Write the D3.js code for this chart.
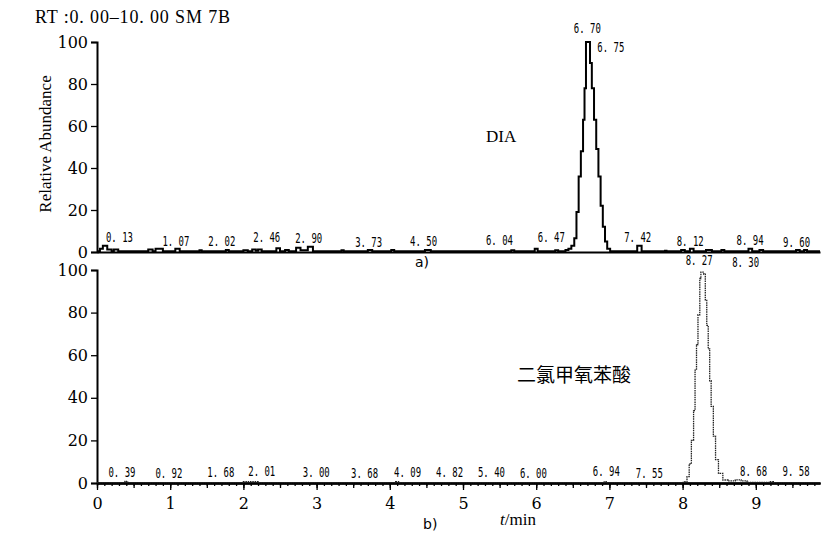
<!DOCTYPE html>
<html>
<head>
  <meta charset="utf-8">
  <title>Chromatogram</title>
  <script src="https://d3js.org/d3.v7.min.js"></script>
  <style>
    body { margin: 0; background: #fff; }
    svg { display: block; }
  </style>
</head>
<body>
  <div id="chart"></div>

  <script>
    // trace a) DIA, time (min) and relative abundance (%)
    var topTime = [0.00, 0.04, 0.08, 0.14, 0.20, 0.23, 0.29, 0.70, 0.76, 0.80, 0.90, 1.07, 1.13, 1.40, 1.43,
      1.76, 1.80, 2.00, 2.06, 2.12, 2.17, 2.20, 2.25, 2.45, 2.50, 2.57, 2.62, 2.72, 2.78, 2.88, 2.95,
      3.34, 3.37, 3.70, 3.76, 4.02, 4.06, 4.48, 4.56, 5.66, 5.70, 5.98, 6.02, 6.26, 6.30,
      6.40, 6.44, 6.48, 6.52, 6.55, 6.58, 6.61, 6.64, 6.66, 6.68, 6.735, 6.76, 6.79, 6.82, 6.85, 6.88,
      6.91, 6.94, 6.97, 7.01, 7.38, 7.44, 7.76, 7.78, 7.98, 8.03, 8.10, 8.15, 8.32, 8.40, 8.53, 8.57,
      8.90, 8.95, 9.05, 9.10, 9.55, 9.60, 9.66, 9.70, 9.877];
    var topAbund = [0.3, 1.5, 3.0, 1.2, 0.3, 1.2, 0.3, 1.2, 0.3, 1.5, 0.3, 1.5, 0.3, 0.8, 0.3,
      1.0, 0.3, 0.8, 0.3, 1.2, 0.6, 1.2, 0.3, 1.8, 0.3, 1.0, 0.3, 2.0, 0.8, 2.5, 0.3,
      0.8, 0.3, 1.0, 0.3, 1.0, 0.3, 1.0, 0.3, 0.8, 0.3, 1.5, 0.3, 0.8, 0.3,
      1.0, 1.5, 3.0, 6.5, 19, 36, 48, 63, 78, 100, 90, 78, 63, 49, 36, 22,
      12, 5, 1.5, 0.3, 3.0, 0.3, 0.6, 0.3, 1.0, 0.3, 1.5, 0.3, 1.0, 0.3, 1.0, 0.3,
      1.5, 0.3, 1.0, 0.3, 1.0, 0.3, 1.0, 0.3, 0.3];

    // trace b) 二氯甲氧苯酸
    var botTime = [0.00, 0.38, 0.42, 2.00, 2.20, 4.08, 4.12, 6.93, 6.97, 7.99, 8.02, 8.06, 8.09, 8.12,
      8.15, 8.17, 8.19, 8.21, 8.235, 8.25, 8.29, 8.31, 8.33, 8.35, 8.37, 8.39, 8.42, 8.45, 8.49,
      8.55, 8.62, 8.72, 8.80, 8.88, 9.20, 9.24, 9.877];
    var botAbund = [0.2, 0.8, 0.2, 0.6, 0.2, 0.6, 0.2, 0.6, 0.2, 0.3, 0.6, 3, 9, 20,
      34, 53, 65, 79, 96, 99, 98, 86, 74, 63, 48, 36, 22, 11, 4.5,
      1.4, 1.0, 1.5, 1.0, 0.3, 0.6, 0.2, 0.2];

    // peak labels: text, label time, label height (%)
    var topLabels = ["0. 13", "1. 07", "2. 02", "2. 46", "2. 90", "3. 73", "4. 50", "6. 04", "6. 47",
      "6. 70", "6. 75", "7. 42", "8. 12", "8. 94", "9. 60"];
    var topLabelT = [0.307, 1.078, 1.705, 2.319, 2.892, 3.711, 4.461, 5.498, 6.207, 6.698, 7.019, 7.387, 8.104, 8.922, 9.557];
    var topLabelY = [4.9, 2.9, 2.9, 4.9, 4.5, 2.6, 2.9, 3.3, 4.8, 104.4, 95.4, 4.8, 2.9, 3.3, 2.5];

    var botLabels = ["0. 39", "0. 92", "1. 68", "2. 01", "3. 00", "3. 68", "4. 09", "4. 82", "5. 40",
      "6. 00", "6. 94", "7. 55", "8. 27", "8. 30", "8. 68", "9. 58"];
    var botLabelT = [0.341, 0.982, 1.692, 2.251, 2.995, 3.656, 4.243, 4.816, 5.389, 5.962, 6.958, 7.545, 8.226, 8.861, 8.970, 9.550];
    var botLabelY = [3.0, 2.5, 3.0, 3.3, 3.0, 2.5, 3.0, 3.0, 3.0, 2.5, 3.3, 2.5, 102.3, 101.5, 3.3, 3.3];

    var yTicks = [0, 20, 40, 60, 80, 100];
    var xTicks = [0, 1, 2, 3, 4, 5, 6, 7, 8, 9];

    var width = 823, height = 538;
    var serif = "'Liberation Serif', 'DejaVu Serif', serif";
    var numSerif = "'DejaVu Serif', serif";
    var mono = "'DejaVu Sans Mono', monospace";

    var svg = d3.select("#chart").append("svg")
      .attr("width", width)
      .attr("height", height);

    var x = d3.scaleLinear().domain([0, 9.877]).range([97, 820]);
    var yTop = d3.scaleLinear().domain([0, 100]).range([252, 42]);
    var yBot = d3.scaleLinear().domain([0, 100]).range([483, 270]);

    function minorVals(step, max) {
      return d3.range(0, max + 1e-6, step);
    }

    function drawYAxis(y) {
      var g = svg.append("g").attr("transform", "translate(97,0)");
      g.call(d3.axisLeft(y).tickValues(minorVals(5, 100)).tickSize(3).tickFormat(""));
      g.call(d3.axisLeft(y).tickValues(yTicks).tickSize(6).tickFormat(d3.format("d")));
      g.selectAll(".domain").attr("stroke-width", 2);
      g.selectAll("line").attr("stroke-width", 1.3);
      g.selectAll("text")
        .style("font-family", numSerif)
        .style("font-size", "16px")
        .attr("fill", "#000");
    }

    drawYAxis(yTop);
    drawYAxis(yBot);

    // top baseline (no ticks)
    svg.append("g")
      .attr("transform", "translate(0," + yTop(0) + ")")
      .call(d3.axisBottom(x).tickValues([]).tickSizeOuter(0))
      .selectAll(".domain").attr("stroke-width", 2);

    // bottom x axis with minor ticks
    var xg = svg.append("g").attr("transform", "translate(0," + yBot(0) + ")");
    xg.append("g").call(d3.axisBottom(x).tickValues(minorVals(0.1, 9.8)).tickSize(3).tickFormat("").tickSizeOuter(0));
    xg.append("g").call(d3.axisBottom(x).tickValues(minorVals(0.5, 9.5)).tickSize(5).tickFormat("").tickSizeOuter(0));
    xg.append("g").call(d3.axisBottom(x).tickValues(xTicks).tickSize(7).tickPadding(8).tickFormat(d3.format("d")).tickSizeOuter(0));
    xg.selectAll(".domain").attr("stroke-width", 2);
    xg.selectAll("line").attr("stroke-width", 1.3);
    xg.selectAll("text")
      .style("font-family", numSerif)
      .style("font-size", "16px")
      .attr("fill", "#000");

    // traces
    var topLine = d3.line()
      .x(function(d) { return x(d[0]); })
      .y(function(d) { return yTop(d[1]); })
      .curve(d3.curveStepAfter);
    var botLine = d3.line()
      .x(function(d) { return x(d[0]); })
      .y(function(d) { return yBot(d[1]); })
      .curve(d3.curveStepAfter);

    svg.append("path")
      .datum(d3.zip(topTime, topAbund))
      .attr("d", topLine)
      .attr("fill", "none")
      .attr("stroke", "#000")
      .attr("stroke-width", 2);

    svg.append("path")
      .datum(d3.zip(botTime, botAbund))
      .attr("d", botLine)
      .attr("fill", "none")
      .attr("stroke", "#222")
      .attr("stroke-width", 1.3)
      .attr("stroke-dasharray", "1.5,0.8");

    // peak labels
    function drawLabels(texts, ts, ys, y) {
      svg.selectAll(null)
        .data(d3.range(texts.length))
        .enter()
        .append("text")
        .attr("x", function(i) { return x(ts[i]); })
        .attr("y", function(i) { return y(ys[i]); })
        .attr("text-anchor", "middle")
        .attr("textLength", 27)
        .attr("lengthAdjust", "spacingAndGlyphs")
        .style("font-family", mono)
        .style("font-size", "13.5px")
        .text(function(i) { return texts[i]; });
    }
    drawLabels(topLabels, topLabelT, topLabelY, yTop);
    drawLabels(botLabels, botLabelT, botLabelY, yBot);

    // header and titles
    svg.append("text")
      .attr("x", 35).attr("y", 23)
      .attr("textLength", 195)
      .style("font-family", serif).style("font-size", "18px")
      .text("RT :0. 00\u201310. 00 SM 7B");

    svg.append("text")
      .attr("transform", "translate(51,144) rotate(-90)")
      .attr("text-anchor", "middle")
      .style("font-family", serif).style("font-size", "17px")
      .text("Relative Abundance");

    svg.append("text")
      .attr("x", 486).attr("y", 142)
      .style("font-family", serif).style("font-size", "17px")
      .text("DIA");

    svg.append("text")
      .attr("x", 517).attr("y", 382)
      .style("font-family", "'Noto Sans CJK SC', sans-serif").style("font-size", "19px")
      .text("二氯甲氧苯酸");

    svg.append("text")
      .attr("x", 415).attr("y", 267)
      .style("font-family", "'DejaVu Sans', sans-serif").style("font-size", "14px")
      .text("a)");

    svg.append("text")
      .attr("x", 423).attr("y", 529)
      .style("font-family", "'DejaVu Sans', sans-serif").style("font-size", "14px")
      .text("b)");

    var tl = svg.append("text")
      .attr("x", 500).attr("y", 525)
      .style("font-family", serif).style("font-size", "17px");
    tl.append("tspan").style("font-style", "italic").text("t");
    tl.append("tspan").text("/min");
  </script>
</body>
</html>
